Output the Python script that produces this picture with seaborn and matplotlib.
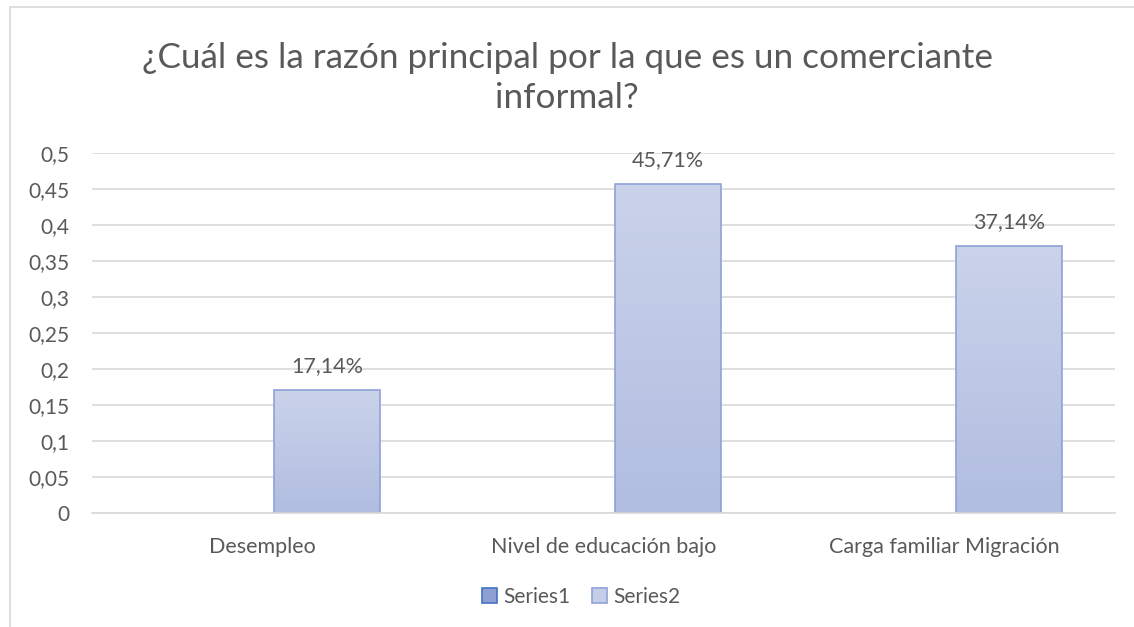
"""Excel-style grouped bar chart: razón principal del comercio informal."""
import matplotlib
matplotlib.use("Agg")
import matplotlib.pyplot as plt
from matplotlib.patches import Patch, Rectangle
import numpy as np
import pandas as pd
import seaborn as sns

CATEGORIES = ["Desempleo", "Nivel de educación bajo", "Carga familiar Migración"]
SERIES1 = [np.nan, np.nan, np.nan]
SERIES2 = [0.1714, 0.4571, 0.3714]
SERIES_NAMES = ["Series1", "Series2"]
Y_TICKS = [0, 0.05, 0.1, 0.15, 0.2, 0.25, 0.3, 0.35, 0.4, 0.45, 0.5]
TITLE = "¿Cuál es la razón principal por la que es un comerciante\ninformal?"

TEXT = "#595959"
GRID = "#D9D9D9"

df = pd.DataFrame({
    "cat": CATEGORIES * 2,
    "serie": [SERIES_NAMES[0]] * 3 + [SERIES_NAMES[1]] * 3,
    "valor": SERIES1 + SERIES2,
})

sns.set_style("white")
plt.rcParams["font.family"] = ["Lato", "DejaVu Sans"]

fig = plt.figure(figsize=(11.34, 6.27), dpi=100)
ax = fig.add_axes([92 / 1134, 1 - 513 / 627, (1115 - 92) / 1134, (513 - 153) / 627])

sns.barplot(data=df, x="cat", y="valor", hue="serie", order=CATEGORIES,
            hue_order=SERIES_NAMES, width=0.757, gap=0.18,
            palette=["#8EA0D3", "#C5CEE9"], edgecolor="#8FA2D8",
            linewidth=1.2, legend=False, ax=ax)

ax.set_ylim(0, 0.5)
ax.set_xlim(-0.5, len(CATEGORIES) - 0.5)
ax.set_yticks(Y_TICKS)
ax.set_yticklabels([f"{t:g}".replace(".", ",") for t in Y_TICKS])
ax.yaxis.grid(True, color=GRID, linewidth=1.2)
ax.set_axisbelow(True)
for s in ["left", "right", "top"]:
    ax.spines[s].set_visible(False)
ax.spines["bottom"].set_color(GRID)
ax.spines["bottom"].set_linewidth(1.2)
ax.tick_params(axis="y", length=0, labelsize=15, colors=TEXT, pad=16)
ax.tick_params(axis="x", length=0, labelsize=15.5, colors=TEXT, pad=17)
ax.set_xlabel("")
ax.set_ylabel("")

# gradient fill + labels for the visible bars
grad = np.linspace(0, 1, 256).reshape(-1, 1)
cmap = matplotlib.colors.LinearSegmentedColormap.from_list("g", ["#B1BDE1", "#CBD3EA"])
for p in ax.patches:
    h = p.get_height()
    if not np.isfinite(h) or h <= 0:
        continue
    x0, w = p.get_x(), p.get_width()
    im = ax.imshow(grad, extent=(x0, x0 + w, 0, h), origin="lower", cmap=cmap,
                   aspect="auto", zorder=p.get_zorder() - 0.01)
    im.set_clip_path(p)
    p.set_facecolor("none")
    ax.text(x0 + w / 2, h + 0.019, f"{h * 100:.2f}%".replace(".", ","),
            ha="center", va="bottom", fontsize=15.5, color=TEXT)
ax.set_xlim(-0.5, len(CATEGORIES) - 0.5)
ax.set_ylim(0, 0.5)

fig.text(0.5, 1 - 78 / 627, TITLE, ha="center", va="center", fontsize=25.3,
         color=TEXT, linespacing=1.32, multialignment="center")

handles = [Patch(facecolor="#8EA0D3", edgecolor="#4472C4", linewidth=1.2),
           Patch(facecolor="#C5CEE9", edgecolor="#8FA2D8", linewidth=1.2)]
fig.legend(handles, SERIES_NAMES, loc="center", bbox_to_anchor=(581 / 1134, 1 - 597 / 627),
           ncol=2, frameon=False, fontsize=15, labelcolor=TEXT,
           handlelength=0.7, handleheight=0.7, handletextpad=0.3, columnspacing=1.05)

fig.patches.append(Rectangle((10 / 1134, -0.1), 1.2, 1 - 7 / 627 + 0.1,
                             transform=fig.transFigure, fill=False,
                             edgecolor=GRID, linewidth=1.2))

fig.savefig("out.png", dpi=100, facecolor="white")
